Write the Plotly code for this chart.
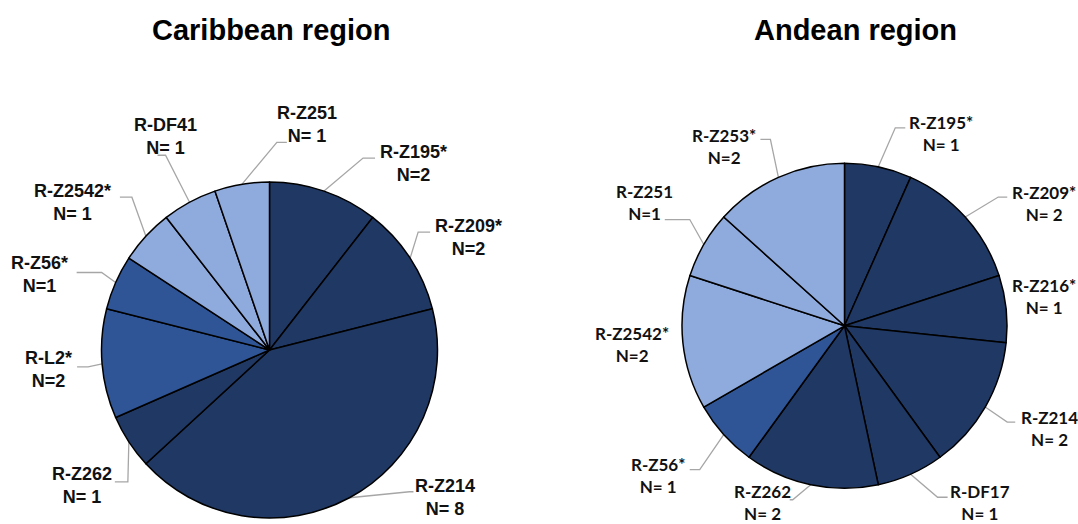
import math
import plotly.graph_objects as go

W, H = 1078, 524

# ---- Caribbean region: haplogroup counts, clockwise from 12 o'clock ----
carib_groups = ["R-Z195*", "R-Z209*", "R-Z214", "R-Z262", "R-L2*", "R-Z56*", "R-Z2542*", "R-DF41", "R-Z251"]
carib_counts = [2, 2, 8, 1, 2, 1, 1, 1, 1]
carib_sep = ["", "", " ", " ", "", "", " ", " ", " "]          # spacing after "N=" as printed
carib_tone = ["dark", "dark", "dark", "dark", "mid", "mid", "light", "light", "light"]

# ---- Andean region ----
andean_groups = ["R-Z195*", "R-Z209*", "R-Z216*", "R-Z214", "R-DF17", "R-Z262", "R-Z56*", "R-Z2542*", "R-Z251", "R-Z253*"]
andean_counts = [1, 2, 1, 2, 1, 2, 1, 2, 1, 2]
andean_sep = [" ", " ", " ", " ", " ", " ", " ", "", "", ""]
andean_tone = ["dark", "dark", "dark", "dark", "dark", "dark", "mid", "light", "light", "light"]

TONES = {"dark": "#203864", "mid": "#2F5597", "light": "#8FAADC"}
LEADER_COLOR = "#A6A6A6"

# Pie geometry in pixels: centre x, centre y, radius
carib_geom = (269.5, 350.0, 168.0)
andean_geom = (844.5, 325.8, 162.5)

# Label placement relative to each slice's rim point (px):
# (label dx, label dy, elbow dx, elbow dy, horizontal tail) ; elbow None -> no leader line
carib_place = [
    (89, -28, 39, -33, 12),
    (58, -21, 8, -26, 12),
    (96, 0, 60, -6, 4),
    (-47, 44, -1, 40, -13),
    (-54, 6, -14, 3, -11),
    (-76, -8, -14, -10, -25),
    (-73, -34, -14, -39, -12),
    (-24, -66, -24, -47, -8),
    (65, -60, 35, -42, 10),
]
andean_place = [
    (63, -33, 17, -39, 10),
    (79, -14, 33, -20, 9),
    (38, -12, None, None, 0),
    (64, 21, 22, 15, 8),
    (69, 28, 27, 23, 10),
    (-48, 18, -18, 15, -3),
    (-66, 41, -24, 35, -10),
    (-51, 2, None, None, 0),
    (-59, -42, -14, -25, -25),
    (-54, -31, -8, -38, -10),
]

TITLE_FONT = dict(family="Liberation Sans, Arial, sans-serif", size=29, color="#000000")
CARIB_FONT = dict(family="Liberation Sans, Arial, sans-serif", size=18, color="#111111")
ANDEAN_FONT = dict(family="Lato, Carlito, Calibri, sans-serif", size=17, color="#111111")


def px(x):
    return x / W


def py(y):
    return 1 - y / H


fig = go.Figure()
annotations = []
shapes = []


def add_pie(groups, counts, sep, tone, geom, place, font):
    cx, cy, r = geom
    fig.add_trace(go.Pie(
        labels=groups,
        values=counts,
        sort=False,
        direction="clockwise",
        rotation=0,
        textinfo="none",
        hoverinfo="label+value",
        marker=dict(colors=[TONES[t] for t in tone], line=dict(color="#000000", width=1.5)),
        domain=dict(x=[px(cx - r), px(cx + r)], y=[py(cy + r), py(cy - r)]),
        showlegend=False,
    ))
    total = sum(counts)
    cum = 0
    for g, n, s, (ldx, ldy, kdx, kdy, tail) in zip(groups, counts, sep, place):
        mid = math.radians(360.0 * (cum + n / 2) / total)
        cum += n
        ax = cx + r * math.sin(mid)
        ay = cy - r * math.cos(mid)
        annotations.append(dict(
            x=px(ax + ldx), y=py(ay + ldy), xref="paper", yref="paper",
            text=f"<b>{g}</b><br><b>N={s}{n}</b>", showarrow=False,
            xanchor="center", yanchor="middle", align="center", font=font,
        ))
        if kdx is not None:
            kx, ky = ax + kdx, ay + kdy
            ex = kx + tail
            shapes.append(dict(
                type="path", xref="paper", yref="paper",
                path=f"M {px(ax)} {py(ay)} L {px(kx)} {py(ky)} L {px(ex)} {py(ky)}",
                line=dict(color=LEADER_COLOR, width=1.3),
                layer="below",
            ))


add_pie(carib_groups, carib_counts, carib_sep, carib_tone, carib_geom, carib_place, CARIB_FONT)
add_pie(andean_groups, andean_counts, andean_sep, andean_tone, andean_geom, andean_place, ANDEAN_FONT)

annotations.append(dict(x=px(271.5), y=py(30), xref="paper", yref="paper", text="<b>Caribbean region</b>",
                        showarrow=False, xanchor="center", yanchor="middle", font=TITLE_FONT))
annotations.append(dict(x=px(855), y=py(30), xref="paper", yref="paper", text="<b>Andean region</b>",
                        showarrow=False, xanchor="center", yanchor="middle", font=TITLE_FONT))

fig.update_layout(
    width=W, height=H,
    margin=dict(l=0, r=0, t=0, b=0),
    paper_bgcolor="#FFFFFF",
    plot_bgcolor="#FFFFFF",
    annotations=annotations,
    shapes=shapes,
)

fig.write_html("out.html", config={"displayModeBar": False})
